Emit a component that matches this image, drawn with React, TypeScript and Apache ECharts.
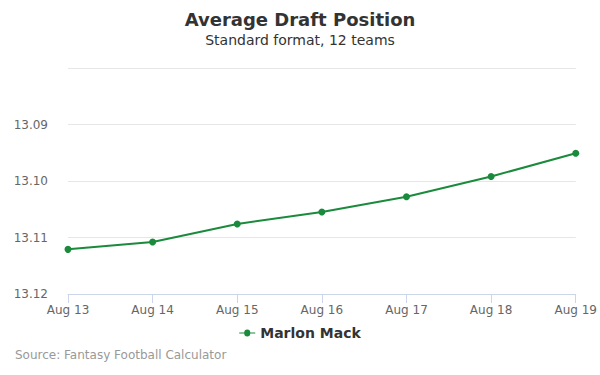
import React, { useEffect, useRef } from "react";
import * as echarts from "echarts";

const categories = ["Aug 13", "Aug 14", "Aug 15", "Aug 16", "Aug 17", "Aug 18", "Aug 19"];
const adpValues = [13.1121, 13.1108, 13.1076, 13.1055, 13.1028, 13.0992, 13.0951];
const seriesName = "Marlon Mack";
const FONT = "DejaVu Sans, sans-serif";

export default function App() {
  const ref = useRef<HTMLDivElement>(null);
  useEffect(() => {
    if (!ref.current) return;
    const chart = echarts.init(ref.current, null, { renderer: "svg" });
    chart.setOption({
      animation: false,
      backgroundColor: "#ffffff",
      textStyle: { fontFamily: FONT },
      title: [
        {
          text: "Average Draft Position",
          left: "center",
          top: 5,
          textStyle: { fontSize: 18, fontWeight: "bold", color: "#333333", fontFamily: FONT },
        },
        {
          text: "Standard format, 12 teams",
          left: "center",
          top: 28,
          textStyle: { fontSize: 14, fontWeight: "normal", color: "#333333", fontFamily: FONT },
        },
        {
          text: "Source: Fantasy Football Calculator",
          left: 10,
          top: 344,
          textStyle: { fontSize: 12, fontWeight: "normal", color: "#999999", fontFamily: FONT },
        },
      ],
      legend: {
        bottom: 30,
        left: "center",
        itemWidth: 16,
        itemHeight: 8,
        itemGap: 5,
        textStyle: { fontSize: 14, fontWeight: "bold", color: "#333333", fontFamily: FONT },
        data: [{ name: seriesName, icon: "path://M0,4 L5,4 A3,3 0 1,1 11,4 L16,4 L16,5 L11,5 A3,3 0 1,1 5,5 L0,5 Z" }],
      },
      grid: { left: 68, right: 21, top: 68, bottom: 81, containLabel: false },
      xAxis: {
        type: "category",
        data: categories,
        boundaryGap: false,
        axisLine: { show: true, lineStyle: { color: "#ccd6eb" } },
        axisTick: { show: true, alignWithLabel: true, length: 9, lineStyle: { color: "#ccd6eb" } },
        axisLabel: { color: "#666666", fontSize: 12, margin: 10, fontFamily: FONT },
        splitLine: { show: false },
      },
      yAxis: {
        type: "value",
        inverse: true,
        min: 13.08,
        max: 13.12,
        interval: 0.01,
        axisLine: { show: false },
        axisTick: { show: false },
        axisLabel: {
          color: "#666666",
          fontSize: 12,
          margin: 20,
          fontFamily: FONT,
          formatter: (v: number) => (Math.abs(v - 13.08) < 1e-6 ? "" : v.toFixed(2)),
        },
        splitLine: { show: true, lineStyle: { color: "#e6e6e6" } },
      },
      series: [
        {
          name: seriesName,
          type: "line",
          data: adpValues,
          symbol: "circle",
          symbolSize: 7,
          itemStyle: { color: "#1a8a3c" },
          lineStyle: { color: "#1a8a3c", width: 2 },
        },
      ],
    });
    return () => chart.dispose();
  }, []);
  return <div ref={ref} style={{ width: 600, height: 375, position: "absolute", left: 0, top: 0 }} />;
}
